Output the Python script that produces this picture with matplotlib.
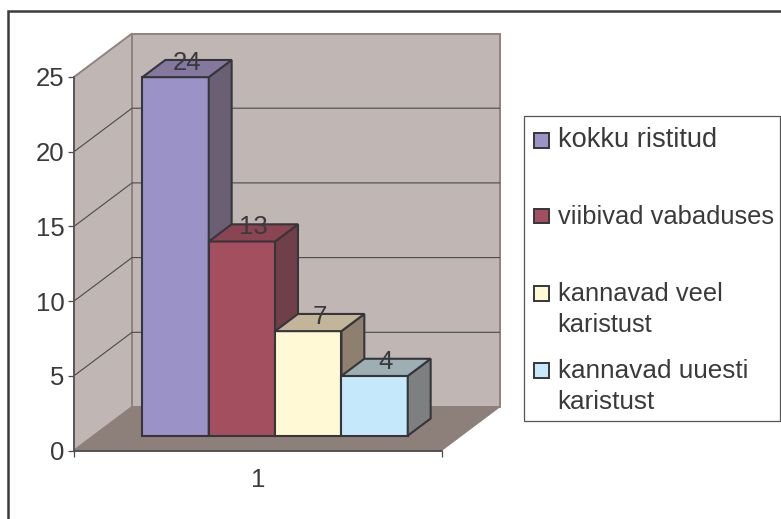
#!/usr/bin/env python3
import matplotlib
matplotlib.use("Agg")
import matplotlib.pyplot as plt
from matplotlib.patches import Polygon, Rectangle

plt.rcParams['font.family'] = ['Liberation Sans', 'DejaVu Sans']

W, H = 781, 519

categories = ["1"]
series = ["kokku ristitud", "viibivad vabaduses", "kannavad veel\nkaristust", "kannavad uuesti\nkaristust"]
values = [24, 13, 7, 4]
yticks = [0, 5, 10, 15, 20, 25]

front = ["#9B93C8", "#A44F60", "#FFF9D6", "#C5E8FA"]
side = ["#6B5F75", "#713F4A", "#8E7F6E", "#7D7F80"]
top = ["#84789F", "#8A4452", "#C2B59A", "#9EAFB4"]

TXT = "#3A3A3C"
EDGE = "#36363A"
WALL = "#C0B7B4"
FLOOR = "#8D7F7A"
WALL_EDGE = "#8F8380"

# pixel box of the front plane of the chart
X0, X1, Y0, Y1 = 74, 441.5, 450.5, 77
DX, DY = 58, 43.5  # depth offset in pixels

fig = plt.figure(figsize=(W / 100, H / 100), dpi=100, facecolor="white")

# full figure axes in pixels, for frame and legend
bg = fig.add_axes([0, 0, 1, 1])
bg.set_xlim(0, W)
bg.set_ylim(H, 0)
bg.axis("off")
bg.add_patch(Rectangle((8, 11), W + 20, H + 20, fc="white", ec="#3C3C40", lw=1.8))

ax = fig.add_axes([X0 / W, 1 - Y0 / H, (X1 - X0) / W, (Y0 - Y1) / H])
ax.set_xlim(0, 1)
ax.set_ylim(0, 25)
ax.patch.set_visible(False)
for s in ax.spines.values():
    s.set_visible(False)

ppu_x = X1 - X0
ppu_y = (Y0 - Y1) / 25


def proj(x, v, d):
    # x in 0..1, v is the value, d is depth 0..1
    return (x + d * DX / ppu_x, v + d * DY / ppu_y)


def face(pts, **kw):
    kw.setdefault("clip_on", False)
    ax.add_patch(Polygon([proj(*p) for p in pts], closed=True, **kw))


# walls and floor
ymax = yticks[-1]
face([(0, 0, 1), (1, 0, 1), (1, ymax, 1), (0, ymax, 1)], fc=WALL, ec=WALL_EDGE, lw=1.4)
face([(0, 0, 0), (0, 0, 1), (0, ymax, 1), (0, ymax, 0)], fc=WALL, ec=WALL_EDGE, lw=1.4)
face([(0, 0, 0), (1, 0, 0), (1, 0, 1), (0, 0, 1)], fc=FLOOR, ec=FLOOR, lw=0.8)

# gridlines on the walls
for v in yticks[1:-1]:
    xs, ys = zip(proj(0, v, 0), proj(0, v, 1), proj(1, v, 1))
    ax.plot(xs, ys, color="#4A4A4C", lw=0.8, clip_on=False, zorder=1.5)

# bars
bar_w = 0.1805
bar_x0 = 0.1325
d0, d1 = 0.34, 0.735
for i, v in enumerate(values):
    xa = bar_x0 + i * bar_w
    xb = xa + bar_w
    z = 3 + i
    kw = dict(ec=EDGE, lw=1.5, joinstyle="miter", zorder=z)
    face([(xa, 0, d0), (xb, 0, d0), (xb, v, d0), (xa, v, d0)], fc=front[i], **kw)
    face([(xb, 0, d0), (xb, 0, d1), (xb, v, d1), (xb, v, d0)], fc=side[i], **kw)
    face([(xa, v, d0), (xb, v, d0), (xb, v, d1), (xa, v, d1)], fc=top[i], **kw)
    ax.annotate(str(v), proj((xa + xb) / 2, v, (d0 + d1) / 2), xytext=(0, 4),
                textcoords="offset points", ha="center", va="center",
                fontsize=18.5, color=TXT, zorder=20, annotation_clip=False)

# axis lines
ax.plot([0, 0], [0, ymax], color="#5A5558", lw=1.3, clip_on=False, zorder=2)
ax.plot([0, 1], [0, 0], color="#4A4A4E", lw=1.3, clip_on=False, zorder=2)

ax.set_yticks(yticks)
ax.set_yticklabels([str(t) for t in yticks])
ax.set_xticks([0, 1])
ax.set_xticklabels(["", ""])
ax.tick_params(axis="both", length=4.5, width=0.9, color="#4A4A4E",
               labelcolor=TXT, labelsize=18.5, pad=2.5)
ax.annotate(categories[0], (0.5, 0), xytext=(0, -21), textcoords="offset points",
            ha="center", va="center", fontsize=18.5, color=TXT, annotation_clip=False)

# legend
bg.add_patch(Rectangle((523.5, 116), 256, 305, fc="white", ec="#555558", lw=0.9))
swatch_y = [133, 208.5, 286, 363]
legend_base = [147, 224, 332, 409]  # baseline of the last line of each entry
legend_size = [19.6, 18.4, 18.4, 18.8]
for i, lab in enumerate(series):
    bg.add_patch(Rectangle((534, swatch_y[i]), 14.5, 14.5, fc=front[i], ec=EDGE, lw=1.4))
    bg.text(557.5, legend_base[i], lab, fontsize=legend_size[i], color=TXT, ha="left",
            va="baseline", linespacing=1.36)

fig.savefig("out.png", dpi=100)
